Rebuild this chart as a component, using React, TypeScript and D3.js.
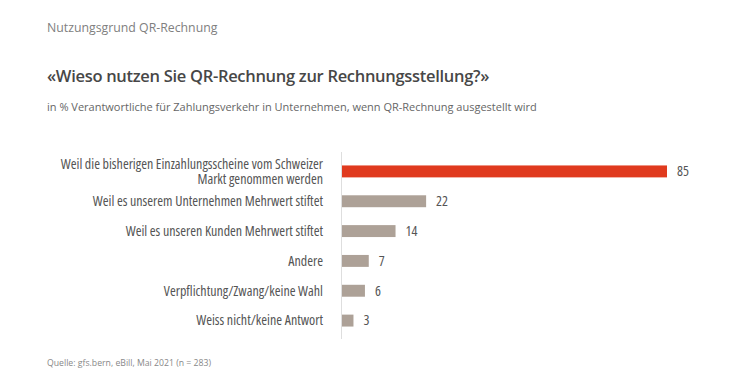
import React from "react";
import * as d3 from "d3";

const categories: string[][] = [
  ["Weil die bisherigen Einzahlungsscheine vom Schweizer", "Markt genommen werden"],
  ["Weil es unserem Unternehmen Mehrwert stiftet"],
  ["Weil es unseren Kunden Mehrwert stiftet"],
  ["Andere"],
  ["Verpflichtung/Zwang/keine Wahl"],
  ["Weiss nicht/keine Antwort"],
];
const values: number[] = [85, 22, 14, 7, 6, 3];
const highlight: boolean[] = [true, false, false, false, false, false];

const kicker = "Nutzungsgrund QR-Rechnung";
const title = "«Wieso nutzen Sie QR-Rechnung zur Rechnungsstellung?»";
const subtitle = "in % Verantwortliche für Zahlungsverkehr in Unternehmen, wenn QR-Rechnung ausgestellt wird";
const source = "Quelle: gfs.bern, eBill, Mai 2021 (n = 283)";

export default function App() {
  const W = 750, H = 380;
  const x0 = 342;
  const x = d3.scaleLinear().domain([0, 85]).range([x0, 667]);
  const idx = values.map((_, i) => String(i));
  const y = d3.scaleBand().domain(idx).range([156.5, 335.5]).paddingInner(0.6).paddingOuter(0.3);
  const font = "'Open Sans', 'Noto Sans', sans-serif";
  const cond = { fontStretch: "semi-condensed" } as React.CSSProperties;
  return (
    <svg width={W} height={H} style={{ position: "absolute", left: 0, top: 0, background: "#fff" }} fontFamily={font}>
      <text x={47} y={32} fontSize={12.3} fill="#808080">{kicker}</text>
      <text x={47} y={82} fontSize={16.5} fontWeight={600} fill="#474747" letterSpacing={-0.3}>{title}</text>
      <text x={47} y={111} fontSize={11} fill="#666">{subtitle}</text>
      <line x1={x0 - 0.5} x2={x0 - 0.5} y1={152} y2={339} stroke="#dedede" strokeWidth={1} />
      {values.map((v, i) => {
        const by = y(String(i))!;
        const bh = y.bandwidth();
        const cy = by + bh / 2;
        const lines = categories[i];
        const lh = 15;
        return (
          <g key={i}>
            <rect x={x(0)} y={by} width={x(v) - x(0)} height={bh} fill={highlight[i] ? "#e03a1e" : "#ada197"} />
            <text x={x(v) + 10} y={cy} dy="0.35em" fontSize={14} fill="#555" style={cond}>{v}</text>
            {lines.map((l, j) => (
              <text key={j} x={323} y={cy + (j - (lines.length - 1) / 2) * lh} dy="0.35em" fontSize={14} fill="#555" textAnchor="end" style={cond}>{l}</text>
            ))}
          </g>
        );
      })}
      <text x={47} y={366} fontSize={8.7} fill="#888">{source}</text>
    </svg>
  );
}
